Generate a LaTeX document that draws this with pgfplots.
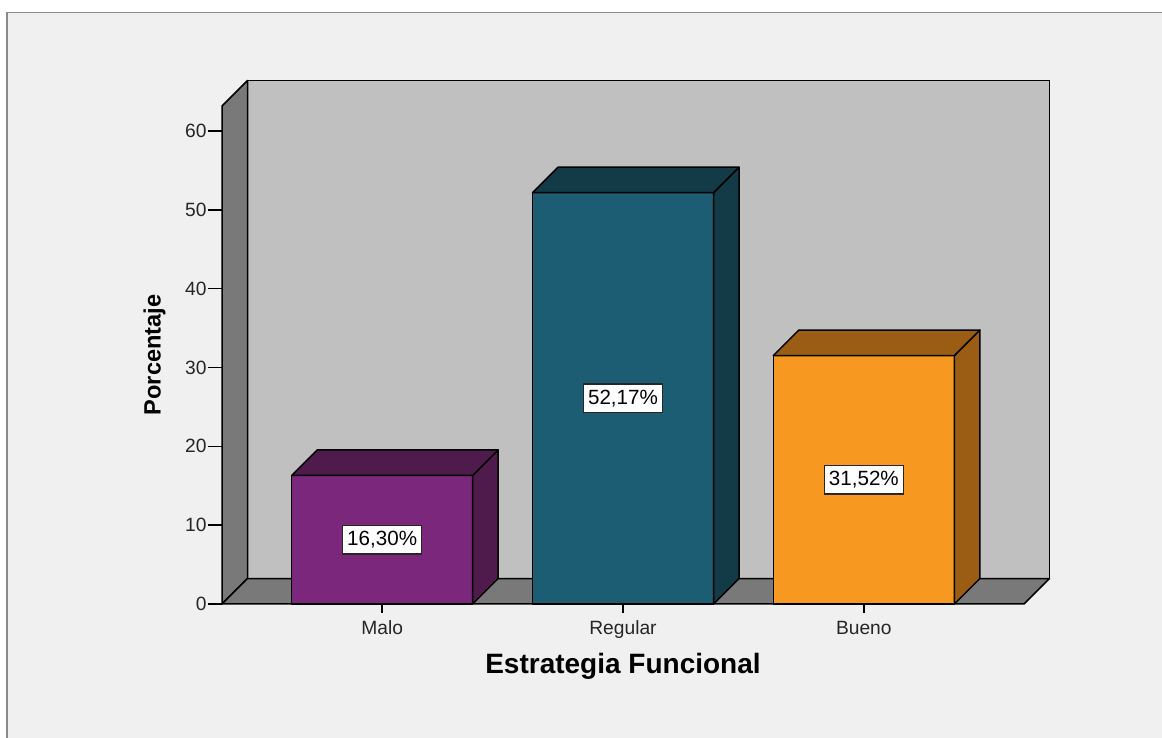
\documentclass[border=0pt]{standalone}
\usepackage{pgfplots}
\pgfplotsset{compat=1.18}
\usepackage{fontspec}
\setmainfont{Liberation Sans}

\definecolor{pagebg}{HTML}{F0F0F0}
\definecolor{frameline}{HTML}{8A8A8A}
\definecolor{backwall}{HTML}{C0C0C0}
\definecolor{sidewall}{HTML}{797979}
\definecolor{malofront}{HTML}{7B277B}
\definecolor{maloside}{HTML}{4F1A4C}
\definecolor{regfront}{HTML}{1C5D74}
\definecolor{regside}{HTML}{123A47}
\definecolor{buefront}{HTML}{F79920}
\definecolor{bueside}{HTML}{9A5D13}

% geometry of the 3-D effect (axis units)
\def\halfw{0.3758}   % half bar width
\def\depx{0.1059}    % depth offset along x
\def\depy{3.234}     % depth offset along y

\tikzset{
  edge/.style={draw=black, line width=0.75pt, line join=round},
  valbox/.style={draw=black!85, line width=0.6pt, fill=white,
    inner xsep=2.2pt, inner ysep=2.6pt, text height=7.5pt, text depth=1.6pt,
    font=\fontsize{10.3}{12}\selectfont},
}

% one 3-D bar: #1 position, #2 value, #3 front colour, #4 shaded colour
\newcommand\threedbar[4]{%
  \pgfmathsetmacro\xl{#1-\halfw}%
  \pgfmathsetmacro\xr{#1+\halfw}%
  \pgfmathsetmacro\xlb{#1-\halfw+\depx}%
  \pgfmathsetmacro\xrb{#1+\halfw+\depx}%
  \pgfmathsetmacro\vt{#2+\depy}%
  \pgfmathsetmacro\half{#2/2}%
  \edef\barcmds{%
    \noexpand\addplot[fill=#3, edge] coordinates {(\xl,0) (\xl,#2) (\xr,#2) (\xr,0)} -- cycle;
    \noexpand\addplot[fill=#4, edge] coordinates {(\xr,0) (\xrb,\depy) (\xrb,\vt) (\xr,#2)} -- cycle;
    \noexpand\addplot[fill=#4, edge] coordinates {(\xl,#2) (\xlb,\vt) (\xrb,\vt) (\xr,#2)} -- cycle;
    \noexpand\node[valbox] at (axis cs:#1,\half)
      {\noexpand\pgfmathprintnumber[fixed,fixed zerofill,precision=2,use comma]{#2}\noexpand\%};
  }%
  \barcmds
}

\begin{document}
\begin{tikzpicture}
\useasboundingbox (0,0) rectangle (581pt,369pt);
\fill[white] (0,0) rectangle (581pt,369pt);
\fill[pagebg] (3.5pt,0) rectangle (581pt,362.8pt);
\draw[frameline, line width=0.8pt] (3.5pt,0) -- (3.5pt,362.8pt) -- (581pt,362.8pt);

\begin{axis}[
  at={(111pt,67pt)}, anchor=south west,
  scale only axis, width=401pt, height=249pt,
  xmin=-0.665, xmax=2.665, ymin=0, ymax=63.17,
  clip=false,
  axis line style={draw=none},
  tick pos=left,
  tick align=outside,
  major tick length=7pt,
  xtick style={/pgfplots/major tick length=4.5pt},
  tick style={black, line width=0.7pt},
  xtick={0,1,2},
  xticklabels={Malo,Regular,Bueno},
  ytick={0,10,...,60},
  /pgf/number format/assume math mode=true,
  ticklabel style={font=\fontsize{9.6}{11}\selectfont, text=black!85},
  yticklabel style={anchor=east, inner sep=0pt, xshift=-0.5pt},
  xticklabel style={anchor=base, inner sep=0pt, yshift=-8.5pt},
  every axis y label/.style={at={([xshift=-33.8pt]rel axis cs:0,0.5)},
    rotate=90, anchor=center, font=\bfseries\fontsize{11.8}{14}\selectfont},
  every axis x label/.style={at={([yshift=-31pt]rel axis cs:0.5,0)},
    anchor=center, font=\bfseries\fontsize{14}{16}\selectfont},
  ylabel={Porcentaje},
  xlabel={Estrategia Funcional},
]
% back wall, left wall and floor
\addplot[fill=backwall, edge] coordinates
  {(-0.5591,3.234) (-0.5591,66.404) (2.7709,66.404) (2.7709,3.234)} -- cycle;
\addplot[fill=sidewall, edge] coordinates
  {(-0.665,0) (-0.665,63.17) (-0.5591,66.404) (-0.5591,3.234)} -- cycle;
\addplot[fill=sidewall, edge] coordinates
  {(-0.665,0) (-0.5591,3.234) (2.7709,3.234) (2.665,0)} -- cycle;

% bars
\threedbar{0}{16.30}{malofront}{maloside}
\threedbar{1}{52.17}{regfront}{regside}
\threedbar{2}{31.52}{buefront}{bueside}
\end{axis}
\end{tikzpicture}
\end{document}
